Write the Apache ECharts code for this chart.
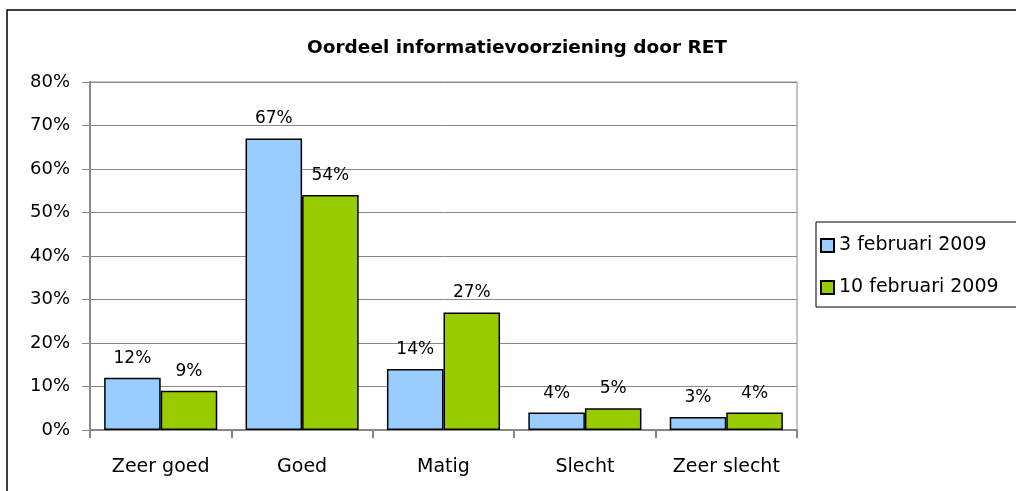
<!DOCTYPE html>
<html>
<head>
<meta charset="utf-8">
<script src="https://cdn.jsdelivr.net/npm/echarts@6/dist/echarts.min.js"></script>
<style>
html, body { margin: 0; padding: 0; background: #fff; }
#main { width: 1016px; height: 491px; }
</style>
</head>
<body>
<div id="main"></div>
<script>
var categories = ['Zeer goed', 'Goed', 'Matig', 'Slecht', 'Zeer slecht'];
var feb3 = [12, 67, 14, 4, 3];
var feb10 = [9, 54, 27, 5, 4];
var seriesNames = ['3 februari 2009', '10 februari 2009'];

var font = 'DejaVu Sans';
var myChart = echarts.init(document.getElementById('main'));

function barSeries(name, data, color) {
    return {
        name: name,
        type: 'bar',
        data: data,
        barGap: '0%',
        barCategoryGap: '20%',
        itemStyle: {
            color: color,
            borderColor: '#000',
            borderWidth: 1.5
        },
        label: {
            show: true,
            position: 'top',
            distance: 11,
            formatter: '{c}%',
            color: '#000',
            fontFamily: font,
            fontSize: 17
        }
    };
}

var option = {
    animation: false,
    backgroundColor: '#fff',
    title: {
        text: 'Oordeel informatievoorziening door RET',
        left: 512,
        textAlign: 'center',
        top: 34,
        textStyle: {
            fontFamily: font,
            fontSize: 18.5,
            fontWeight: 'bold',
            color: '#000'
        }
    },
    legend: {
        orient: 'vertical',
        left: 820,
        top: 236,
        padding: 0,
        icon: 'rect',
        itemWidth: 13,
        itemHeight: 13,
        itemGap: 23,
        data: seriesNames,
        textStyle: {
            fontFamily: font,
            fontSize: 19,
            color: '#000'
        }
    },
    grid: {
        left: 90,
        right: 219,
        top: 82,
        bottom: 61,
        show: true,
        borderColor: '#888',
        borderWidth: 1
    },
    xAxis: {
        type: 'category',
        data: categories,
        axisLine: { lineStyle: { color: '#888', width: 2 } },
        axisTick: { show: true, length: 8, lineStyle: { color: '#888', width: 2 } },
        axisLabel: {
            margin: 28,
            color: '#000',
            fontFamily: font,
            fontSize: 19
        }
    },
    yAxis: {
        type: 'value',
        min: 0,
        max: 80,
        interval: 10,
        axisLine: { show: true, lineStyle: { color: '#888', width: 2 } },
        axisTick: { show: true, length: 8, lineStyle: { color: '#888', width: 1 } },
        splitLine: { lineStyle: { color: '#888', width: 1 } },
        axisLabel: {
            formatter: '{value}%',
            margin: 20,
            color: '#000',
            fontFamily: font,
            fontSize: 18
        }
    },
    graphic: [
        {
            type: 'rect',
            shape: { x: 7, y: 10, width: 1020, height: 500 },
            style: { fill: 'none', stroke: '#000', lineWidth: 1.5 },
            z: -1
        },
        {
            type: 'rect',
            shape: { x: 816, y: 222, width: 210, height: 85 },
            style: { fill: 'none', stroke: '#000', lineWidth: 1 }
        }
    ],
    series: [
        barSeries(seriesNames[0], feb3, '#99ccff'),
        barSeries(seriesNames[1], feb10, '#99cc00')
    ]
};

myChart.setOption(option);
window.onresize = function () {
    myChart.resize();
};
</script>
</body>
</html>
